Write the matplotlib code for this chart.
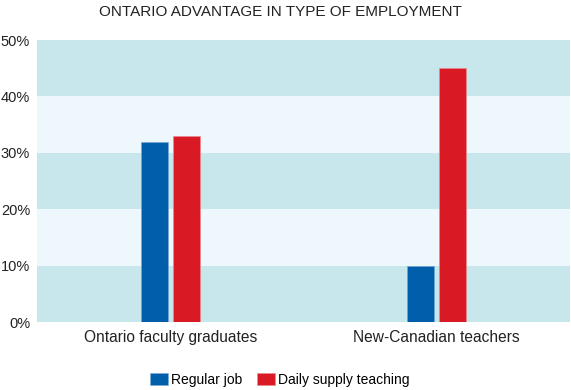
import matplotlib.pyplot as plt
import numpy as np
from matplotlib.ticker import FuncFormatter

plt.rcParams["font.family"] = ["Liberation Sans", "DejaVu Sans"]

# data
groups = ["Ontario faculty graduates", "New-Canadian teachers"]
regular_job = [32, 10]
daily_supply = [33, 45]
series_names = ["Regular job", "Daily supply teaching"]
yticks = [0, 10, 20, 30, 40, 50]

blue = "#005eaa"
red = "#d91a24"
band_dark = "#c8e7ec"
band_light = "#eef7fc"

fig = plt.figure(figsize=(5.71, 3.90), dpi=100)
ax = fig.add_axes([37 / 571, 1 - 322 / 390, 533 / 571, 282 / 390])

# alternating background bands
for i in range(len(yticks) - 1):
    ax.axhspan(yticks[i], yticks[i + 1], color=band_dark if i % 2 == 0 else band_light,
               lw=0, zorder=0)

x = np.arange(len(groups))
w = 0.103
off = 0.06
ax.bar(x - off, regular_job, w, color=blue, edgecolor="#7aa9d6", linewidth=0.4,
       label=series_names[0], zorder=2)
ax.bar(x + off, daily_supply, w, color=red, edgecolor="#ec8a8f", linewidth=0.4,
       label=series_names[1], zorder=2)

ax.set_xlim(-0.5, 1.5)
ax.set_ylim(0, 50)
ax.set_yticks(yticks)
ax.yaxis.set_major_formatter(FuncFormatter(lambda v, p: f"{int(v)}%"))
ax.set_xticks(x)
ax.set_xticklabels(groups, fontsize=11.2, color="#222222")
ax.tick_params(axis="y", length=0, pad=5, labelsize=10.5, labelcolor="#222222")
ax.tick_params(axis="x", length=0, pad=6)
for s in ax.spines.values():
    s.set_visible(False)

fig.text(280 / 571, 1 - 12 / 390, "ONTARIO ADVANTAGE IN TYPE OF EMPLOYMENT",
         ha="center", va="center", fontsize=11, color="#222222")

fig.legend(loc="center", bbox_to_anchor=(280 / 571, 1 - 380 / 390), ncol=2,
           frameon=False, fontsize=10, handlelength=1.3, handleheight=0.93,
           handletextpad=0.22, columnspacing=1.08, borderaxespad=0)

fig.savefig("out.png", dpi=100)
